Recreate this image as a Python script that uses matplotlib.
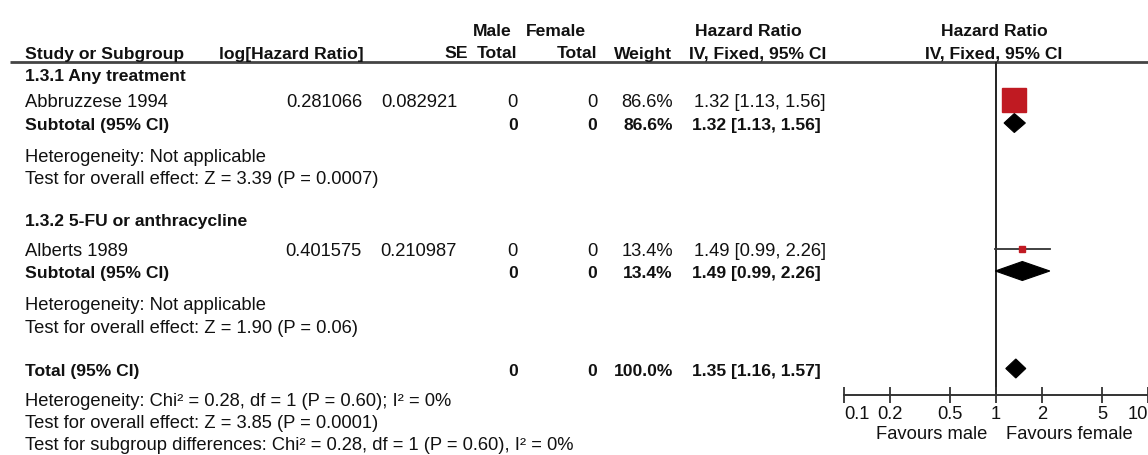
import matplotlib.pyplot as plt
from matplotlib.patches import Polygon
from matplotlib.ticker import NullLocator

plt.rcParams['font.family'] = ['Liberation Sans', 'DejaVu Sans']

# individual studies
studies = ['Abbruzzese 1994', 'Alberts 1989']
log_hr = [0.281066, 0.401575]
se = [0.082921, 0.210987]
male_n = [0, 0]
female_n = [0, 0]
weight = [86.6, 13.4]
hr = [1.32, 1.49]
hr_lo = [1.13, 0.99]
hr_hi = [1.56, 2.26]

# subgroups
groups = ['1.3.1 Any treatment', '1.3.2 5-FU or anthracycline']
sub_male = [0, 0]
sub_female = [0, 0]
sub_weight = [86.6, 13.4]
sub_hr = [1.32, 1.49]
sub_lo = [1.13, 0.99]
sub_hi = [1.56, 2.26]
sub_het = ['Heterogeneity: Not applicable', 'Heterogeneity: Not applicable']
sub_z = ['Test for overall effect: Z = 3.39 (P = 0.0007)',
         'Test for overall effect: Z = 1.90 (P = 0.06)']

# pooled
tot_male = 0
tot_female = 0
tot_weight = 100.0
tot_hr = 1.35
tot_lo = 1.16
tot_hi = 1.57
tot_notes = ['Heterogeneity: Chi\u00b2 = 0.28, df = 1 (P = 0.60); I\u00b2 = 0%',
             'Test for overall effect: Z = 3.85 (P = 0.0001)',
             'Test for subgroup differences: Chi\u00b2 = 0.28, df = 1 (P = 0.60), I\u00b2 = 0%']

ticks = [0.1, 0.2, 0.5, 1, 2, 5, 10]
tick_labels = ['0.1', '0.2', '0.5', '1', '2', '5', '10']

W, H = 1148, 456
RED = '#c01a22'
INK = '#111111'

fig = plt.figure(figsize=(W / 100, H / 100), dpi=100)
tab = fig.add_axes([0, 0, 1, 1])
tab.set_xlim(0, W)
tab.set_ylim(H, 0)
tab.axis('off')


def put(x, y, s, ha='left', bold=False):
    tab.text(x, y + 6.5, s, ha=ha, va='baseline', color=INK,
             fontsize=12.6 if bold else 13.2,
             fontweight='bold' if bold else 'normal')


# column headers
put(473, 29, 'Male', bold=True)
put(526, 29, 'Female', bold=True)
put(695, 29, 'Hazard Ratio', bold=True)
put(994, 29, 'Hazard Ratio', ha='center', bold=True)
put(25, 52, 'Study or Subgroup', bold=True)
put(364, 52, 'log[Hazard Ratio]', ha='right', bold=True)
put(468, 52, 'SE', ha='right', bold=True)
put(517, 52, 'Total', ha='right', bold=True)
put(597, 52, 'Total', ha='right', bold=True)
put(672, 52, 'Weight', ha='right', bold=True)
put(689, 52, 'IV, Fixed, 95% CI', bold=True)
put(994, 52, 'IV, Fixed, 95% CI', ha='center', bold=True)
tab.plot([10, W], [63, 63], color='#444444', lw=2, solid_capstyle='butt')

# forest panel shares the pixel rows of the table
x0, x1, y_top, y_axis = 844, 1148, 63, 396
fp = fig.add_axes([x0 / W, (H - y_axis) / H, (x1 - x0) / W, (y_axis - y_top) / H])
fp.patch.set_alpha(0)
fp.set_xscale('log')
fp.set_xlim(0.1, 10)
fp.set_ylim(y_axis, y_top)
for side in ['top', 'left', 'right']:
    fp.spines[side].set_visible(False)
fp.spines['bottom'].set_linewidth(1.4)
fp.spines['bottom'].set_color('#333333')
fp.set_yticks([])
fp.set_xticks(ticks)
fp.set_xticklabels(tick_labels)
fp.xaxis.set_minor_locator(NullLocator())
fp.tick_params(axis='x', direction='inout', length=12, width=1.3, color='#333333',
               pad=1, labelsize=13.2, labelcolor=INK)
labels = fp.get_xticklabels()
labels[0].set_ha('left')
labels[-1].set_ha('right')
fp.axvline(1, color='#222222', lw=1.4, zorder=1)

put(932, 433, 'Favours male', ha='center')
put(1069, 433, 'Favours female', ha='center')


def diamond(y, est, lo, hi, h=19):
    fp.add_patch(Polygon([(lo, y), (est, y - h / 2), (hi, y), (est, y + h / 2)],
                         closed=True, fc='black', ec='black', lw=0.8, zorder=3))


row_head = [75, 220]
row_study = [101, 249.5]
row_sub = [124, 272]
row_het = [156, 304]
row_z = [178, 327]

for i in range(len(groups)):
    put(25, row_head[i], groups[i], bold=True)

    y = row_study[i]
    put(25, y, studies[i])
    put(362, y, f'{log_hr[i]:.6f}', ha='right')
    put(457, y, f'{se[i]:.6f}', ha='right')
    put(518, y, str(male_n[i]), ha='right')
    put(597, y, str(female_n[i]), ha='right')
    put(673, y, f'{weight[i]:.1f}%', ha='right')
    put(694, y, f'{hr[i]:.2f} [{hr_lo[i]:.2f}, {hr_hi[i]:.2f}]')
    fp.plot([hr_lo[i], hr_hi[i]], [y, y], color='#333333', lw=1.3, zorder=2)
    side = 24 * (weight[i] / max(weight)) ** 0.7
    fp.plot([hr[i]], [y], marker='s', ms=side * 0.72, color=RED, mec=RED, zorder=4)

    y = row_sub[i]
    put(25, y, 'Subtotal (95% CI)', bold=True)
    put(518, y, str(sub_male[i]), ha='right', bold=True)
    put(597, y, str(sub_female[i]), ha='right', bold=True)
    put(673, y, f'{sub_weight[i]:.1f}%', ha='right', bold=True)
    put(692, y, f'{sub_hr[i]:.2f} [{sub_lo[i]:.2f}, {sub_hi[i]:.2f}]', bold=True)
    diamond(y, sub_hr[i], sub_lo[i], sub_hi[i])

    put(25, row_het[i], sub_het[i])
    put(25, row_z[i], sub_z[i])

y = 369.5
put(25, y, 'Total (95% CI)', bold=True)
put(518, y, str(tot_male), ha='right', bold=True)
put(597, y, str(tot_female), ha='right', bold=True)
put(673, y, f'{tot_weight:.1f}%', ha='right', bold=True)
put(692, y, f'{tot_hr:.2f} [{tot_lo:.2f}, {tot_hi:.2f}]', bold=True)
diamond(y, tot_hr, tot_lo, tot_hi)

for yy, note in zip([400, 422, 444], tot_notes):
    put(25, yy, note)

fig.savefig('out.png', dpi=100)
